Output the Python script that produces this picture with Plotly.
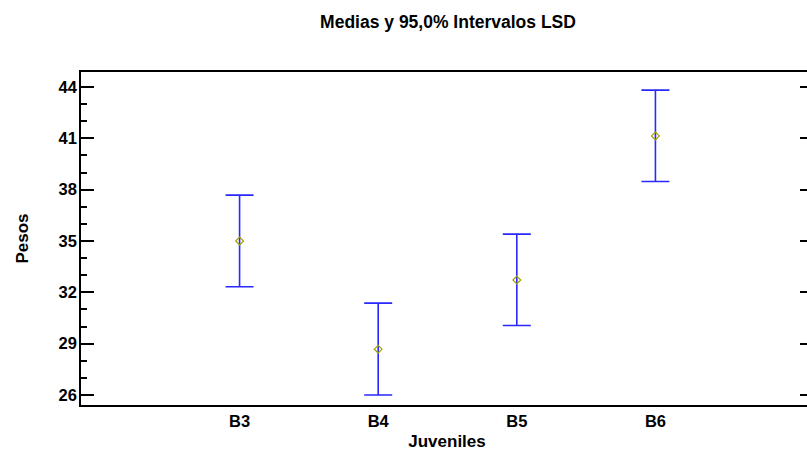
import plotly.graph_objects as go

categories = ["B3", "B4", "B5", "B6"]
means = [35.0, 28.68, 32.72, 41.14]
lower = [32.33, 26.0, 30.06, 38.48]
upper = [37.68, 31.37, 35.40, 43.82]
y_ticks = [26, 29, 32, 35, 38, 41, 44]

xpos = list(range(1, len(categories) + 1))
err_plus = [u - m for u, m in zip(upper, means)]
err_minus = [m - l for m, l in zip(means, lower)]

FONT = "Liberation Sans, Arial, sans-serif"

fig = go.Figure()
fig.add_trace(go.Scatter(
    x=xpos, y=means, mode="markers",
    marker=dict(symbol="diamond-open", size=6, color="#a0a000", line=dict(width=1.2)),
    error_y=dict(type="data", symmetric=False, array=err_plus, arrayminus=err_minus,
                 color="rgb(40,40,255)", thickness=1.6, width=14),
    showlegend=False, hoverinfo="skip",
))

fig.update_layout(
    width=815, height=451,
    margin=dict(l=81, r=0, t=72, b=46),
    paper_bgcolor="white", plot_bgcolor="white",
    font=dict(family=FONT, size=15, color="black"),
    title=dict(text="<b>Medias y 95,0% Intervalos LSD</b>", x=448/815, xref="container",
               xanchor="center", y=1 - 22/451, yanchor="middle",
               font=dict(family=FONT, size=17.5, color="black")),
)
fig.update_xaxes(
    range=[1 - 159/139, 4 + 158/139],
    tickmode="array", tickvals=xpos, ticktext=["<b>%s</b>" % c for c in categories],
    ticks="", showgrid=False, zeroline=False,
    showline=True, linecolor="black", linewidth=1.5, mirror=True,
    tickfont=dict(family=FONT, size=16.5),
    title=dict(text="<b>Juveniles</b>", font=dict(family=FONT, size=17), standoff=10),
)
fig.update_yaxes(
    range=[26 - 10/17.1, 44 + 15/17.1],
    tickmode="array", tickvals=y_ticks, ticktext=["<b>%d</b>" % t for t in y_ticks],
    ticks="inside", ticklen=13, tickwidth=1.5, tickcolor="black",
    minor=dict(ticks="inside", ticklen=6, tickwidth=1.5, tickcolor="black", dtick=1, tick0=26, showgrid=False),
    showgrid=False, zeroline=False,
    showline=True, linecolor="black", linewidth=1.5, mirror="ticks",
    tickfont=dict(family=FONT, size=16.5), ticklabelstandoff=-1,
    title=dict(text="<b>Pesos</b>", font=dict(family=FONT, size=17), standoff=26),
)

fig.write_html("out.html", config={"displayModeBar": False}, post_script=(
    "document.body.style.margin='0';document.body.style.overflow='hidden';"
    "document.documentElement.style.overflow='hidden';"
))
